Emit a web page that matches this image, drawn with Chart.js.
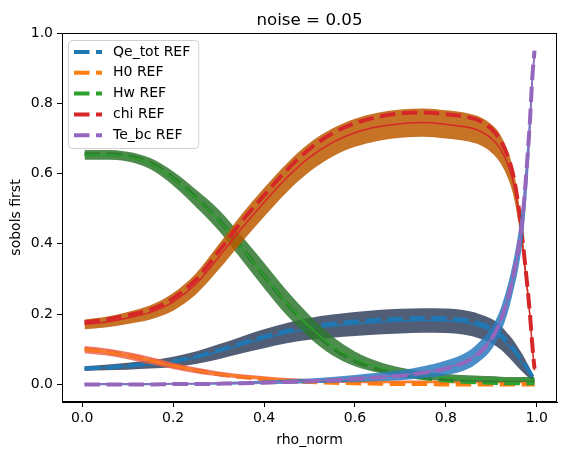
<!DOCTYPE html>
<html>
<head>
<meta charset="utf-8">
<script src="https://cdn.jsdelivr.net/npm/chart.js@4.4.0/dist/chart.umd.min.js"></script>
<style>
    html, body { margin: 0; padding: 0; background: #fff; }
    #wrap { width: 567px; height: 455px; }
</style>
</head>
<body>
<div id="wrap"><canvas id="sobolChart" width="567" height="455"></canvas></div>
<script>
// Data
const rho = [0.005, 0.05, 0.1, 0.15, 0.2, 0.25, 0.3, 0.35, 0.4, 0.45, 0.5, 0.55, 0.6, 0.65, 0.7, 0.75, 0.8, 0.85, 0.875, 0.9, 0.92, 0.94, 0.95, 0.96, 0.97, 0.98, 0.985, 0.99, 0.995];

const qeMean = [0.045, 0.048, 0.052, 0.057, 0.064, 0.076, 0.093, 0.112, 0.130, 0.146, 0.158, 0.166, 0.172, 0.177, 0.180, 0.182, 0.181, 0.174, 0.165, 0.152, 0.134, 0.107, 0.092, 0.075, 0.058, 0.040, 0.031, 0.021, 0.011];
const qeRef = [0.045, 0.048, 0.053, 0.058, 0.066, 0.079, 0.097, 0.117, 0.136, 0.152, 0.165, 0.173, 0.179, 0.184, 0.187, 0.189, 0.188, 0.182, 0.173, 0.160, 0.142, 0.115, 0.099, 0.081, 0.063, 0.044, 0.034, 0.023, 0.012];
const qeLow = [0.038, 0.040, 0.042, 0.045, 0.049, 0.058, 0.072, 0.088, 0.103, 0.117, 0.127, 0.133, 0.138, 0.142, 0.145, 0.147, 0.146, 0.139, 0.130, 0.117, 0.100, 0.075, 0.061, 0.047, 0.034, 0.022, 0.016, 0.011, 0.006];
const qeHigh = [0.052, 0.056, 0.062, 0.069, 0.079, 0.094, 0.114, 0.136, 0.157, 0.175, 0.189, 0.199, 0.206, 0.212, 0.215, 0.217, 0.216, 0.209, 0.200, 0.187, 0.168, 0.139, 0.123, 0.103, 0.082, 0.058, 0.046, 0.031, 0.016];

const h0Mean = [0.099, 0.093, 0.082, 0.068, 0.053, 0.040, 0.030, 0.023, 0.018, 0.014, 0.011, 0.009, 0.008, 0.007, 0.007, 0.007, 0.007, 0.007, 0.007, 0.007, 0.007, 0.007, 0.007, 0.007, 0.007, 0.007, 0.007, 0.007, 0.007];
const h0Ref = [0.100, 0.094, 0.083, 0.068, 0.053, 0.040, 0.029, 0.021, 0.015, 0.010, 0.007, 0.005, 0.003, 0.002, 0.001, 0.001, 0.000, 0.000, 0.000, 0.000, 0.000, 0.000, 0.000, 0.000, 0.000, 0.000, 0.000, 0.000, 0.000];
const h0Low = [0.089, 0.083, 0.072, 0.058, 0.044, 0.032, 0.023, 0.017, 0.013, 0.010, 0.007, 0.005, 0.004, 0.003, 0.003, 0.003, 0.003, 0.003, 0.003, 0.003, 0.003, 0.003, 0.003, 0.003, 0.003, 0.003, 0.003, 0.003, 0.003];
const h0High = [0.109, 0.103, 0.092, 0.078, 0.062, 0.048, 0.037, 0.029, 0.023, 0.018, 0.015, 0.013, 0.012, 0.011, 0.011, 0.011, 0.011, 0.011, 0.011, 0.011, 0.011, 0.011, 0.011, 0.011, 0.011, 0.011, 0.011, 0.011, 0.011];

const hwMean = [0.653, 0.653, 0.648, 0.628, 0.586, 0.530, 0.468, 0.390, 0.310, 0.232, 0.165, 0.110, 0.073, 0.050, 0.035, 0.026, 0.020, 0.017, 0.016, 0.015, 0.014, 0.014, 0.014, 0.014, 0.014, 0.014, 0.014, 0.014, 0.014];
const hwRef = [0.655, 0.655, 0.650, 0.630, 0.588, 0.532, 0.469, 0.390, 0.309, 0.230, 0.162, 0.105, 0.067, 0.043, 0.028, 0.018, 0.011, 0.007, 0.006, 0.005, 0.004, 0.003, 0.003, 0.003, 0.003, 0.003, 0.003, 0.003, 0.003];
const hwLow = [0.639, 0.639, 0.634, 0.612, 0.566, 0.505, 0.438, 0.356, 0.274, 0.197, 0.133, 0.083, 0.052, 0.034, 0.022, 0.015, 0.010, 0.008, 0.007, 0.006, 0.006, 0.007, 0.007, 0.007, 0.007, 0.007, 0.007, 0.007, 0.007];
const hwHigh = [0.667, 0.667, 0.662, 0.644, 0.606, 0.555, 0.498, 0.424, 0.346, 0.267, 0.197, 0.137, 0.094, 0.066, 0.048, 0.037, 0.030, 0.026, 0.025, 0.024, 0.022, 0.021, 0.021, 0.021, 0.021, 0.021, 0.021, 0.021, 0.021];

const chiMean = [0.171, 0.177, 0.189, 0.205, 0.235, 0.286, 0.362, 0.443, 0.518, 0.588, 0.646, 0.688, 0.716, 0.733, 0.742, 0.745, 0.740, 0.731, 0.721, 0.700, 0.670, 0.613, 0.566, 0.490, 0.383, 0.262, 0.193, 0.110, 0.040];
const chiRef = [0.177, 0.184, 0.197, 0.213, 0.245, 0.298, 0.378, 0.462, 0.538, 0.610, 0.670, 0.714, 0.743, 0.761, 0.771, 0.774, 0.769, 0.760, 0.750, 0.727, 0.695, 0.635, 0.585, 0.505, 0.395, 0.270, 0.200, 0.115, 0.045];
const chiLow = [0.157, 0.162, 0.172, 0.185, 0.210, 0.256, 0.326, 0.403, 0.477, 0.547, 0.605, 0.648, 0.676, 0.693, 0.702, 0.705, 0.700, 0.691, 0.681, 0.660, 0.630, 0.575, 0.530, 0.457, 0.355, 0.242, 0.177, 0.100, 0.034];
const chiHigh = [0.185, 0.192, 0.206, 0.225, 0.260, 0.316, 0.398, 0.483, 0.559, 0.629, 0.687, 0.728, 0.756, 0.773, 0.782, 0.785, 0.780, 0.771, 0.761, 0.740, 0.710, 0.651, 0.602, 0.523, 0.411, 0.282, 0.209, 0.120, 0.046];

const teMean = [0.001, 0.001, 0.001, 0.001, 0.002, 0.002, 0.003, 0.004, 0.006, 0.008, 0.010, 0.013, 0.017, 0.021, 0.026, 0.035, 0.047, 0.070, 0.095, 0.130, 0.180, 0.262, 0.318, 0.385, 0.480, 0.640, 0.740, 0.860, 0.935];
const teRef = [0.000, 0.000, 0.000, 0.000, 0.001, 0.001, 0.002, 0.003, 0.005, 0.007, 0.009, 0.012, 0.016, 0.020, 0.025, 0.033, 0.045, 0.068, 0.091, 0.128, 0.180, 0.262, 0.320, 0.390, 0.490, 0.655, 0.750, 0.870, 0.950];
const teLow = [-0.002, -0.002, -0.002, -0.002, -0.001, -0.001, -0.001, 0.000, 0.001, 0.002, 0.003, 0.005, 0.007, 0.009, 0.012, 0.018, 0.026, 0.045, 0.067, 0.099, 0.146, 0.222, 0.275, 0.335, 0.422, 0.580, 0.685, 0.820, 0.923];
const teHigh = [0.004, 0.004, 0.004, 0.004, 0.005, 0.005, 0.007, 0.008, 0.011, 0.014, 0.017, 0.021, 0.027, 0.033, 0.040, 0.052, 0.068, 0.095, 0.123, 0.161, 0.214, 0.302, 0.361, 0.435, 0.538, 0.700, 0.795, 0.900, 0.947];

const xTicks = [0.0, 0.2, 0.4, 0.6, 0.8, 1.0];
const yTicks = [0.0, 0.2, 0.4, 0.6, 0.8, 1.0];

const titleText = 'noise = 0.05';
const xTitle = 'rho_norm';
const yTitle = 'sobols first';

const FONT = '"DejaVu Sans", "Liberation Sans", sans-serif';

function pts(values) {
    return rho.map((x, i) => ({ x: x, y: values[i] }));
}

// Each variable: band (fill between low/high), mean line, dashed REF line.
// refBelow: the REF line sits under the band (as in the reference for H0 / Hw)
const series = [
    { name: 'Qe_tot', low: qeLow, high: qeHigh, mean: qeMean, ref: qeRef, color: '#1f77b4', band: 'rgba(52, 66, 94, 0.85)', refBelow: false },
    { name: 'H0', low: h0Low, high: h0High, mean: h0Mean, ref: h0Ref, color: '#ff7f0e', band: 'rgba(237, 99, 70, 0.85)', refBelow: true },
    { name: 'Hw', low: hwLow, high: hwHigh, mean: hwMean, ref: hwRef, color: '#2ca02c', band: 'rgba(47, 120, 47, 0.85)', refBelow: true },
    { name: 'chi', low: chiLow, high: chiHigh, mean: chiMean, ref: chiRef, color: '#d62728', band: 'rgba(188, 90, 0, 0.85)', refBelow: false },
    { name: 'Te_bc', low: teLow, high: teHigh, mean: teMean, ref: teRef, color: '#9467bd', band: 'rgba(43, 123, 190, 0.85)', refBelow: false }
];

const REF_DASH = [15.5, 6.5];

// higher order = drawn earlier (underneath)
let z = 200;
const datasets = [];

function pushRef(s) {
    datasets.push({
        label: s.name + ' REF', data: pts(s.ref),
        borderWidth: 4, borderColor: s.color, borderDash: REF_DASH, borderCapStyle: 'butt',
        pointRadius: 0, fill: false, order: z--, cubicInterpolationMode: 'monotone'
    });
}

series.forEach(s => {
    if (s.refBelow) pushRef(s);
    datasets.push({
        label: s.name + ' low', data: pts(s.low),
        borderWidth: 0, borderColor: 'rgba(0,0,0,0)', pointRadius: 0,
        fill: false, order: z, cubicInterpolationMode: 'monotone'
    });
    datasets.push({
        label: s.name + ' band', data: pts(s.high),
        borderWidth: 0, borderColor: 'rgba(0,0,0,0)', pointRadius: 0,
        backgroundColor: s.band, fill: '-1', order: z--, cubicInterpolationMode: 'monotone'
    });
    datasets.push({
        label: s.name, data: pts(s.mean),
        borderWidth: 1.5, borderColor: s.color, pointRadius: 0,
        fill: false, order: z--, cubicInterpolationMode: 'monotone'
    });
    if (!s.refBelow) pushRef(s);
});

// Frame, title and matplotlib-like legend
const decorations = {
    id: 'decorations',
    afterDraw(chart) {
        const { ctx, chartArea: a } = chart;
        ctx.save();
        ctx.strokeStyle = '#000';
        ctx.lineWidth = 1;
        ctx.strokeRect(Math.round(a.left) + 0.5, Math.round(a.top) + 0.5,
            Math.round(a.right - a.left) - 1, Math.round(a.bottom - a.top) - 1);

        ctx.fillStyle = '#000';
        ctx.font = '16.7px ' + FONT;
        ctx.textAlign = 'center';
        ctx.textBaseline = 'alphabetic';
        ctx.fillText(titleText, (a.left + a.right) / 2, 25);

        // legend
        ctx.font = '14px ' + FONT;
        const refs = series.map(s => s.name + ' REF');
        const textW = Math.max(...refs.map(t => ctx.measureText(t).width));
        const bx = a.left + 6, by = a.top + 7;
        const bw = 45 + textW + 8, bh = 108;
        ctx.beginPath();
        ctx.roundRect(bx + 0.5, by + 0.5, bw, bh, 4);
        ctx.fillStyle = 'rgba(255,255,255,0.8)';
        ctx.fill();
        ctx.strokeStyle = '#d0d0d0';
        ctx.stroke();
        series.forEach((s, i) => {
            const cy = by + 12 + i * 20.8;
            ctx.beginPath();
            ctx.setLineDash(REF_DASH);
            ctx.lineCap = 'butt';
            ctx.lineWidth = 4;
            ctx.strokeStyle = s.color;
            ctx.moveTo(bx + 6, cy);
            ctx.lineTo(bx + 34, cy);
            ctx.stroke();
            ctx.setLineDash([]);
            ctx.fillStyle = '#000';
            ctx.textAlign = 'left';
            ctx.textBaseline = 'middle';
            ctx.fillText(refs[i], bx + 45, cy);
        });
        ctx.restore();
    }
};

const ctx = document.getElementById('sobolChart').getContext('2d');
new Chart(ctx, {
    type: 'line',
    data: { datasets: datasets },
    options: {
        responsive: false,
        animation: false,
        events: [],
        layout: { padding: { top: 33, right: 10, left: 0, bottom: 0 } },
        plugins: {
            legend: { display: false },
            tooltip: { enabled: false },
            title: { display: false }
        },
        scales: {
            x: {
                type: 'linear',
                min: -0.0445,
                max: 1.0445,
                afterBuildTicks: scale => { scale.ticks = xTicks.map(v => ({ value: v })); },
                afterFit: scale => { scale.height = 53; },
                grid: { drawOnChartArea: false, drawTicks: true, tickLength: 5, color: '#000' },
                border: { display: true, color: '#000', width: 1 },
                ticks: {
                    padding: 3,
                    color: '#000',
                    font: { family: FONT, size: 14 },
                    callback: v => v.toFixed(1),
                    maxRotation: 0
                },
                title: {
                    display: true, text: xTitle, color: '#000',
                    font: { family: FONT, size: 14 },
                    padding: { top: 0, bottom: 6 }
                }
            },
            y: {
                type: 'linear',
                min: -0.05,
                max: 1.0,
                afterBuildTicks: scale => { scale.ticks = yTicks.map(v => ({ value: v })); },
                afterFit: scale => { scale.width = 62; },
                grid: { drawOnChartArea: false, drawTicks: true, tickLength: 5, color: '#000' },
                border: { display: true, color: '#000', width: 1 },
                ticks: {
                    padding: 4,
                    color: '#000',
                    font: { family: FONT, size: 14 },
                    callback: v => v.toFixed(1)
                },
                title: {
                    display: true, text: yTitle, color: '#000',
                    font: { family: FONT, size: 14 },
                    padding: { top: 8, bottom: 0 }
                }
            }
        }
    },
    plugins: [decorations]
});
</script>
</body>
</html>
